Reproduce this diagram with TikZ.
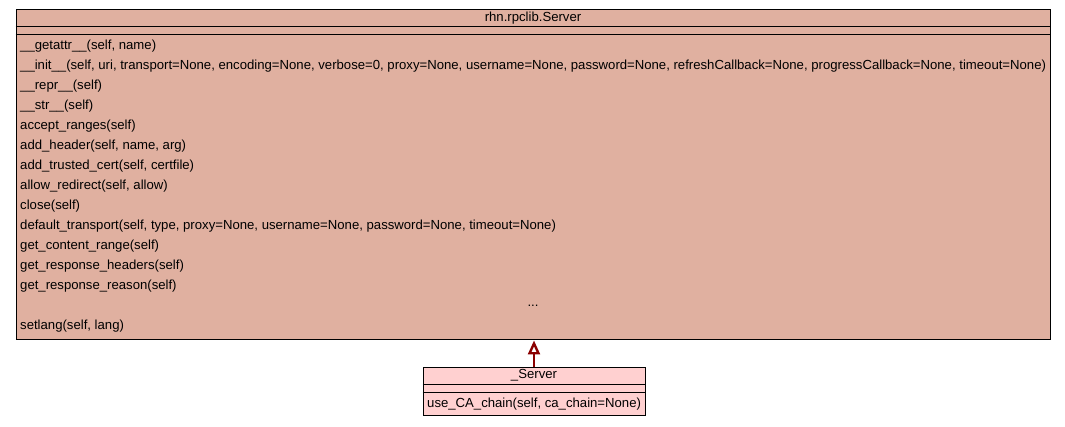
\documentclass[tikz,border=0pt]{standalone}
\usepackage{fontspec}
\setmainfont{Liberation Sans}
\usetikzlibrary{arrows.meta, positioning}
\definecolor{basefill}{RGB}{224,176,160}
\definecolor{subfill}{RGB}{255,208,208}
\definecolor{inherit}{RGB}{139,0,0}

\begin{document}
\begin{tikzpicture}[
    x=1pt, y=-1pt,
    every node/.style={font=\fontsize{13.15}{14}\selectfont, inner sep=0pt},
    classbox/.style={draw, line width=1pt, inner sep=0pt},
    title/.style={anchor=center},
    method/.style={anchor=west},
    arr/.style={-{Triangle[open, length=14pt, width=12pt]}, line width=2.4pt, draw=inherit}
  ]
  \useasboundingbox (0,0) rectangle (1065,427);

  % base class
  \node[classbox, fill=basefill, minimum width=1034pt, minimum height=330pt] (server) at (533,175) {};
  \node[title] (servername) at (533,18.5) {rhn.rpclib.Server};
  \draw[line width=1pt] (server.west |- 0,27) -- (server.east |- 0,27);
  \draw[line width=1pt] (server.west |- 0,35) -- (server.east |- 0,35);
  \foreach \txt [count=\i] in {
      {\_\_getattr\_\_(self, name)},
      {\_\_init\_\_(self, uri, transport=None, encoding=None, verbose=0, proxy=None, username=None, password=None, refreshCallback=None, progressCallback=None, timeout=None)},
      {\_\_repr\_\_(self)},
      {\_\_str\_\_(self)},
      {accept\_ranges(self)},
      {add\_header(self, name, arg)},
      {add\_trusted\_cert(self, certfile)},
      {allow\_redirect(self, allow)},
      {close(self)},
      {default\_transport(self, type, proxy=None, username=None, password=None, timeout=None)},
      {get\_content\_range(self)},
      {get\_response\_headers(self)},
      {get\_response\_reason(self)}}
    \node[method] (m\i) at (20,26+20*\i) {\txt};
  \node[title] (more) at (533,306) {...};
  \node[method] (setlang) at (20,326) {setlang(self, lang)};

  % derived class
  \node[classbox, fill=subfill, minimum width=222pt, minimum height=48pt] (sub) at (534,391) {};
  \node[title] (subname) at (534,375.5) {\_Server};
  \draw[line width=1pt] (sub.west |- 0,384) -- (sub.east |- 0,384);
  \draw[line width=1pt] (sub.west |- 0,392) -- (sub.east |- 0,392);
  \node[method] (usechain) at (427,404) {use\_CA\_chain(self, ca\_chain=None)};

  \draw[arr] (sub.north) -- (server.south -| sub.north);
\end{tikzpicture}
\end{document}
